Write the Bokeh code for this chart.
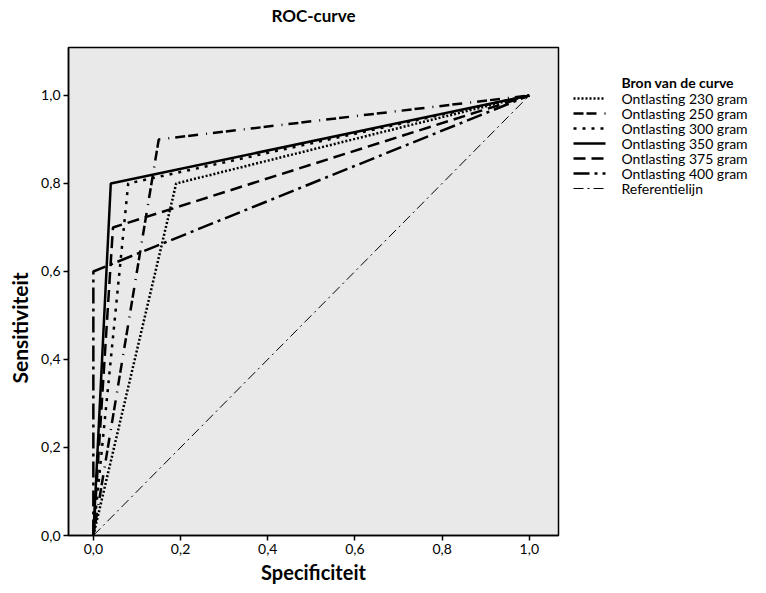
from bokeh.plotting import figure
from bokeh.models import FixedTicker, Range1d, Title
from bokeh.layouts import row
from bokeh.core.properties import value
from bokeh.embed import file_html
from bokeh.resources import INLINE

# Data (x = 1 - specificity as drawn, y = sensitivity)
series_names = ["Ontlasting 230 gram", "Ontlasting 250 gram", "Ontlasting 300 gram",
                "Ontlasting 350 gram", "Ontlasting 375 gram", "Ontlasting 400 gram"]
x_230 = [0.0, 0.19, 1.0]
y_230 = [0.0, 0.80, 1.0]
x_250 = [0.0, 0.15, 1.0]
y_250 = [0.0, 0.90, 1.0]
x_300 = [0.0, 0.08, 1.0]
y_300 = [0.0, 0.80, 1.0]
x_350 = [0.0, 0.04, 1.0]
y_350 = [0.0, 0.80, 1.0]
x_375 = [0.0, 0.045, 1.0]
y_375 = [0.0, 0.70, 1.0]
x_400 = [0.0, 0.0, 1.0]
y_400 = [0.0, 0.60, 1.0]
ref_name = "Referentielijn"
x_ref = [0.0, 1.0]
y_ref = [0.0, 1.0]
tick_values = [0.0, 0.2, 0.4, 0.6, 0.8, 1.0]
tick_labels = ["0,0", "0,2", "0,4", "0,6", "0,8", "1,0"]
title_text = "ROC-curve"
x_label = "Specificiteit"
y_label = "Sensitiviteit"
legend_title = "Bron van de curve"

FONT = "Lato"
H = 577
TOP, BOTTOM, FH = 47, 42, 488

p = figure(width=560, height=H, frame_width=490, frame_height=FH,
           output_backend="svg", toolbar_location=None,
           x_range=Range1d(-0.057, 1.067), y_range=Range1d(0.0, 1.109),
           x_axis_label=x_label,
           min_border_left=68, min_border_top=TOP, min_border_right=2, min_border_bottom=BOTTOM)

p.border_fill_color = "white"
p.background_fill_color = "#e9e9e9"
p.outline_line_color = "black"
p.outline_line_width = 1.5
p.grid.visible = False

for ax in (p.xaxis[0], p.yaxis[0]):
    ax.ticker = FixedTicker(ticks=tick_values)
    ax.major_label_overrides = {v: l for v, l in zip(tick_values, tick_labels)}
    ax.major_label_text_font = FONT
    ax.major_label_text_font_size = "14px"
    ax.major_label_text_color = "black"
    ax.axis_label_text_font = FONT
    ax.axis_label_text_font_size = "20px"
    ax.axis_label_text_font_style = "bold"
    ax.axis_label_text_color = "black"
    ax.major_tick_out = 5
    ax.major_tick_in = 0
    ax.minor_tick_line_color = None
    ax.axis_line_color = "black"
    ax.axis_line_width = 1.5
    ax.major_tick_line_width = 1.5
    ax.major_label_standoff = 3
    ax.axis_label_standoff = 3
p.yaxis[0].major_label_orientation = "horizontal"

# Title (trailing blank line lifts the visible line away from the frame)
ttl = Title(text=title_text + "\n ", align="center", offset=0,
            text_font=FONT, text_font_size="17px", text_font_style="bold",
            text_color="black", standoff=2)
p.add_layout(ttl, "above")

ylab = Title(text=y_label, align="left", offset=152, vertical_align="top",
             text_font=FONT, text_font_size="21px", text_font_style="bold",
             text_color="black", standoff=10)
p.add_layout(ylab, "left")

styles = [
    (x_230, y_230, "2 2", 2.5),
    (x_250, y_250, "10 3 10 8 1 6", 2.5),
    (x_300, y_300, "3 6", 2.5),
    (x_350, y_350, "solid", 2.5),
    (x_375, y_375, "12 6", 2.5),
    (x_400, y_400, "16 5 3 5", 2.5),
]
for (xs, ys, dash, w) in styles:
    p.line(xs, ys, line_color="black", line_width=w, line_dash=dash)
p.line(x_ref, y_ref, line_color="black", line_width=1, line_dash="10 4 2 4")

# Legend panel (separate figure; its frame spans page rows TOP..TOP+FH, y in page pixels)
LW = 190
lg = figure(width=LW, height=H, frame_width=LW, frame_height=FH,
            output_backend="svg", toolbar_location=None,
            x_range=Range1d(0, LW), y_range=Range1d(TOP + FH, TOP),
            min_border_left=0, min_border_right=0,
            min_border_top=TOP, min_border_bottom=BOTTOM, outline_line_color=None)
lg.axis.visible = False
lg.grid.visible = False
lg.background_fill_color = "white"
lg.border_fill_color = "white"

row0, row_step = 98, 15
sample_x0, sample_x1, text_x = 13, 45, 61
LFS = "14px"
lg.text(x=[text_x], y=[row0 - 16], text=[legend_title], text_font=value(FONT),
        text_font_size=LFS, text_font_style="bold", text_baseline="middle",
        text_color="black")
leg_dashes = [s[2] for s in styles] + ["10 4 2 4"]
leg_widths = [s[3] for s in styles] + [1]
leg_labels = series_names + [ref_name]
for i, (dash, w, lab) in enumerate(zip(leg_dashes, leg_widths, leg_labels)):
    yy = row0 + row_step * i
    lg.line([sample_x0, sample_x1], [yy, yy], line_color="black", line_width=w, line_dash=dash)
    lg.text(x=[text_x], y=[yy], text=[lab], text_font=value(FONT), text_font_size=LFS,
            text_baseline="middle", text_color="black")

layout = row(p, lg, spacing=0)
open("out.html", "w").write(file_html(layout, INLINE))
